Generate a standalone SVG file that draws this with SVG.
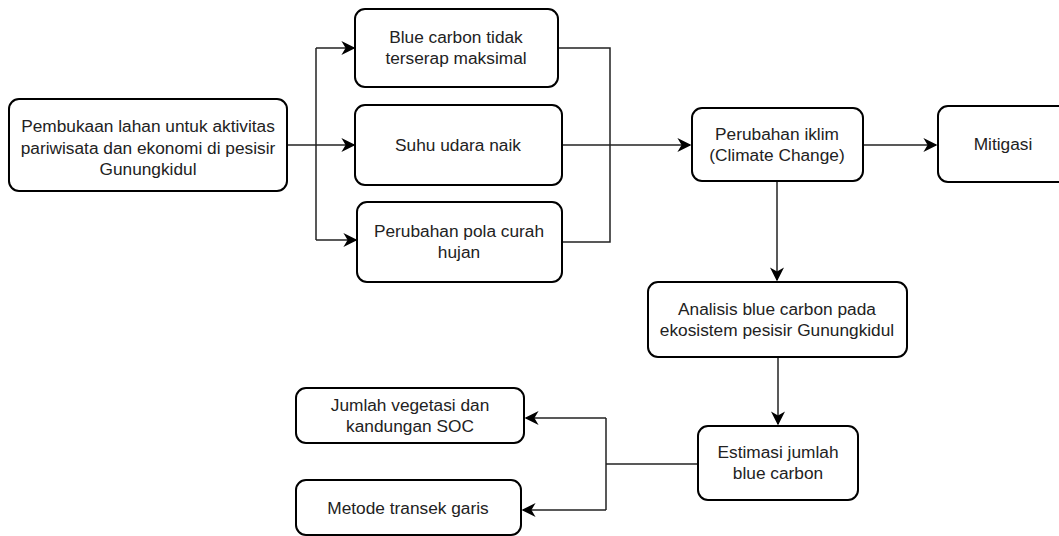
<svg xmlns="http://www.w3.org/2000/svg" width="1059" height="536" viewBox="0 0 1059 536">
<defs>
<style>
.box{fill:#fff;stroke:#000;stroke-width:2}
.t{font-family:"Liberation Sans",Arial,sans-serif;font-size:17.3px;fill:#222;text-anchor:middle}
.c{fill:none;stroke:#222;stroke-width:1.5}
</style>
<marker id="ah" viewBox="0 0 10 10" refX="9" refY="5" markerWidth="14" markerHeight="14" markerUnits="userSpaceOnUse" orient="auto">
<path d="M0,0 L10,5 L0,10 L3,5 Z" fill="#000"/>
</marker>
</defs>
<rect width="1059" height="536" fill="#fff"/>
<g id="connectors">
<path class="c" d="M287,145 H316"/>
<path class="c" d="M316,48 V240"/>
<path class="c" d="M316,48 H354" marker-end="url(#ah)"/>
<path class="c" d="M316,145 H354" marker-end="url(#ah)"/>
<path class="c" d="M316,240 H356" marker-end="url(#ah)"/>
<path class="c" d="M558,48 H610 V242 H562"/>
<path class="c" d="M562,145 H690" marker-end="url(#ah)"/>
<path class="c" d="M863,145 H936" marker-end="url(#ah)"/>
<path class="c" d="M777,181 V280" marker-end="url(#ah)"/>
<path class="c" d="M778,357 V424" marker-end="url(#ah)"/>
<path class="c" d="M698,464 H606"/>
<path class="c" d="M606,418 V510"/>
<path class="c" d="M606,418 H526" marker-end="url(#ah)"/>
<path class="c" d="M606,510 H523" marker-end="url(#ah)"/>
</g>
<g id="n1"><rect class="box" x="9" y="99" width="278" height="92" rx="10"/>
<text class="t" x="148" y="132">Pembukaan lahan untuk aktivitas</text>
<text class="t" x="148" y="153.5">pariwisata dan ekonomi di pesisir</text>
<text class="t" x="148" y="175">Gunungkidul</text></g>
<g id="n2"><rect class="box" x="355" y="9" width="203" height="78" rx="10"/>
<text class="t" x="456" y="43">Blue carbon tidak</text>
<text class="t" x="456" y="64">terserap maksimal</text></g>
<g id="n3"><rect class="box" x="355" y="105" width="207" height="80" rx="10"/>
<text class="t" x="458" y="151">Suhu udara naik</text></g>
<g id="n4"><rect class="box" x="357" y="202" width="205" height="80" rx="10"/>
<text class="t" x="459" y="237">Perubahan pola curah</text>
<text class="t" x="459" y="258">hujan</text></g>
<g id="n5"><rect class="box" x="692" y="108" width="171" height="73" rx="10"/>
<text class="t" x="777" y="140">Perubahan iklim</text>
<text class="t" x="777" y="161">(Climate Change)</text></g>
<g id="n6"><rect class="box" x="938" y="106" width="130" height="76" rx="10"/>
<text class="t" x="1003" y="150">Mitigasi</text></g>
<g id="n7"><rect class="box" x="648" y="282" width="259" height="75" rx="10"/>
<text class="t" x="777" y="315">Analisis blue carbon pada</text>
<text class="t" x="777" y="336">ekosistem pesisir Gunungkidul</text></g>
<g id="n8"><rect class="box" x="698" y="426" width="160" height="74" rx="10"/>
<text class="t" x="778" y="458">Estimasi jumlah</text>
<text class="t" x="778" y="479">blue carbon</text></g>
<g id="n9"><rect class="box" x="296" y="388" width="228" height="55" rx="10"/>
<text class="t" x="410" y="411">Jumlah vegetasi dan</text>
<text class="t" x="410" y="432">kandungan SOC</text></g>
<g id="n10"><rect class="box" x="296" y="480" width="225" height="55" rx="10"/>
<text class="t" x="408" y="514">Metode transek garis</text></g>
</svg>
